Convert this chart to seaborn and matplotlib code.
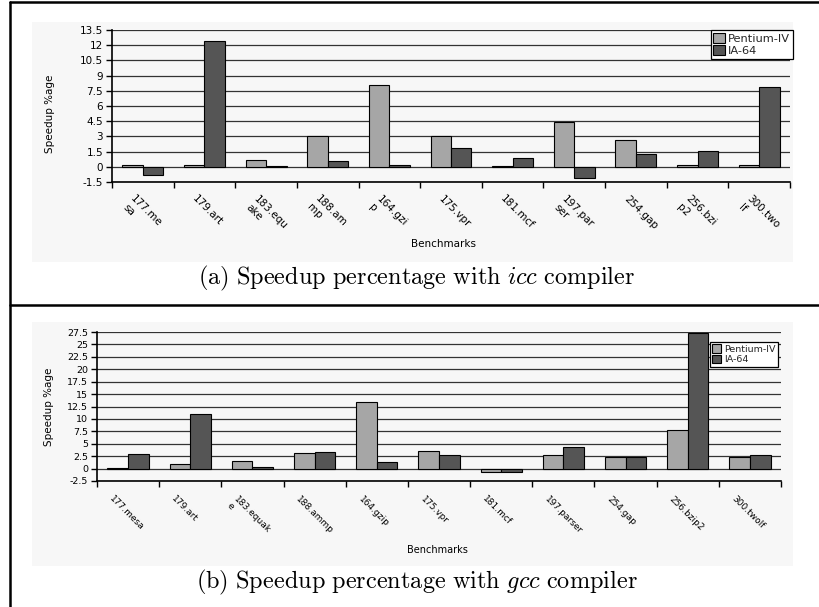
import numpy as np
import pandas as pd
import matplotlib
matplotlib.use('Agg')
import matplotlib.pyplot as plt
import seaborn as sns
from matplotlib.patches import Patch, Rectangle
from matplotlib.lines import Line2D
from matplotlib.transforms import ScaledTranslation

# ---------------- data ----------------
benchmarks = ["177.mesa", "179.art", "183.equake", "188.ammp", "164.gzip", "175.vpr",
              "181.mcf", "197.parser", "254.gap", "256.bzip2", "300.twolf"]
icc_labels = ["177.me\nsa", "179.art", "183.equ\nake", "188.am\nmp", "164.gzi\np", "175.vpr",
              "181.mcf", "197.par\nser", "254.gap", "256.bzi\np2", "300.two\nlf"]
gcc_labels = ["177.mesa", "179.art", "183.equak\ne", "188.ammp", "164.gzip", "175.vpr",
              "181.mcf", "197.parser", "254.gap", "256.bzip2", "300.twolf"]
series = ["Pentium-IV", "IA-64"]

icc_pentium = [0.22, 0.2, 0.72, 3.0, 8.1, 3.0, 0.03, 4.47, 2.6, 0.16, 0.16]
icc_ia64 = [-0.76, 12.4, 0.03, 0.62, 0.2, 1.87, 0.89, -1.12, 1.22, 1.51, 7.86]
gcc_pentium = [0.2, 0.94, 1.6, 3.2, 13.5, 3.5, -0.6, 2.75, 2.4, 7.85, 2.4]
gcc_ia64 = [2.9, 11.07, 0.27, 3.35, 1.34, 2.7, -0.6, 4.43, 2.3, 27.2, 2.75]

caption_a = r'$\mathrm{(a)\ Speedup\ percentage\ with\ }\mathit{icc}\mathrm{\ compiler}$'
caption_b = r'$\mathrm{(b)\ Speedup\ percentage\ with\ }\mathit{gcc}\mathrm{\ compiler}$'

# ---------------- style ----------------
sns.set_theme(style='white')
plt.rcParams['font.family'] = ['DejaVu Sans']
plt.rcParams['mathtext.fontset'] = 'cm'

c_p = '#a6a6a6'
c_ia = '#555555'

W, H = 819, 607
fig = plt.figure(figsize=(W / 100, H / 100), dpi=100)
fig.patch.set_facecolor('white')


def fx(px):
    return px / W


def fy(py):
    return 1 - py / H


# light chart backgrounds
for (x0, y0, x1, y1) in [(32, 22, 793, 262), (32, 322, 793, 566)]:
    fig.add_artist(Rectangle((fx(x0), fy(y1)), fx(x1) - fx(x0), fy(y0) - fy(y1),
                             transform=fig.transFigure, facecolor='#f7f7f7',
                             edgecolor='none', zorder=-5))


def panel(box, labels, p, ia, ylim, step, fs_y, fs_x, lab_dx, lab_pad,
          leg_anchor, leg_fs, ylab_xy):
    x0, y0, x1, y1 = box
    ax = fig.add_axes([fx(x0), fy(y1), fx(x1) - fx(x0), fy(y0) - fy(y1)])
    n = len(benchmarks)
    df = pd.DataFrame({
        'benchmark': benchmarks * 2,
        'series': [series[0]] * n + [series[1]] * n,
        'value': list(p) + list(ia),
    })
    sns.barplot(data=df, x='benchmark', y='value', hue='series', hue_order=series,
                palette=[c_p, c_ia], edgecolor='black', linewidth=0.8, width=0.665,
                gap=0, saturation=1, legend=False, errorbar=None, ax=ax)
    ax.set_facecolor('none')
    ax.set_xlim(-0.5, n - 0.5)
    ax.set_ylim(*ylim)
    yt = np.arange(ylim[0], ylim[1] + step / 2, step)
    ax.set_yticks(yt)
    ax.set_yticklabels([f'{v:g}' for v in yt])
    ax.yaxis.grid(True, color='#333333', linewidth=0.9)
    ax.xaxis.grid(False)
    ax.set_axisbelow(True)
    ax.set_xticks(np.arange(n))
    ax.set_xticklabels(labels, rotation=-45, ha='left', va='top',
                       rotation_mode='anchor', fontsize=fs_x)
    ax.set_xticks(np.arange(n + 1) - 0.5, minor=True)
    ax.tick_params(axis='x', which='major', length=0, pad=lab_pad, bottom=True)
    ax.tick_params(axis='x', which='minor', length=4.5, width=1, color='black',
                   direction='out', bottom=True)
    ax.tick_params(axis='y', length=4.5, width=1, color='black', direction='out',
                   left=True, pad=2, labelsize=fs_y, labelcolor='black')
    for s in ['top', 'right']:
        ax.spines[s].set_visible(False)
    for s in ['left', 'bottom']:
        ax.spines[s].set_color('black')
        ax.spines[s].set_linewidth(1.2)
    off = ScaledTranslation(lab_dx / 100, 0, fig.dpi_scale_trans)
    for lbl in ax.get_xticklabels():
        lbl.set_transform(lbl.get_transform() + off)
        lbl.set_color('black')
    ax.set_xlabel('')
    ax.set_ylabel('Speedup %age', fontsize=7.5, color='black')
    ax.yaxis.set_label_coords(*ylab_xy)
    handles = [Patch(facecolor=c_p, edgecolor='black', linewidth=0.8, label=series[0]),
               Patch(facecolor=c_ia, edgecolor='black', linewidth=0.8, label=series[1])]
    leg = ax.legend(handles=handles, loc='upper right',
                    bbox_to_anchor=(fx(leg_anchor[0]), fy(leg_anchor[1])),
                    bbox_transform=fig.transFigure, borderaxespad=0, fancybox=False,
                    framealpha=1, edgecolor='black', fontsize=leg_fs,
                    handlelength=1.0, handleheight=1.0, handletextpad=0.3,
                    labelspacing=0.1, borderpad=0.25)
    leg.get_frame().set_linewidth(0.9)
    return ax


panel((112, 30, 790, 182), icc_labels, icc_pentium, icc_ia64, (-1.5, 13.5), 1.5,
      7.5, 7.5, -7, 8.5, (793, 30), 8.2, (-0.084, 0.45))
panel((97, 332, 781, 481), gcc_labels, gcc_pentium, gcc_ia64, (-2.5, 27.5), 2.5,
      6.8, 6.5, -14, 9.5, (778, 342), 6.8, (-0.063, 0.5))

fig.text(fx(443), fy(244), 'Benchmarks', fontsize=7.5, ha='center', va='center', color='black')
fig.text(fx(437), fy(550), 'Benchmarks', fontsize=7.0, ha='center', va='center', color='black')

fig.text(fx(417), fy(278), caption_a, ha='center', va='center', fontsize=17.5, color='black')
fig.text(fx(417), fy(582), caption_b, ha='center', va='center', fontsize=17.5, color='black')

# panel borders
lw = 1.8
fig.add_artist(Line2D([fx(9.5), fx(9.5)], [fy(1.5), 0], transform=fig.transFigure,
                      color='black', lw=lw))
fig.add_artist(Line2D([fx(9.5), 1], [fy(1.8), fy(1.8)], transform=fig.transFigure,
                      color='black', lw=lw))
fig.add_artist(Line2D([fx(9.5), 1], [fy(304.5), fy(304.5)], transform=fig.transFigure,
                      color='black', lw=lw))

fig.savefig('out.png', dpi=100)
